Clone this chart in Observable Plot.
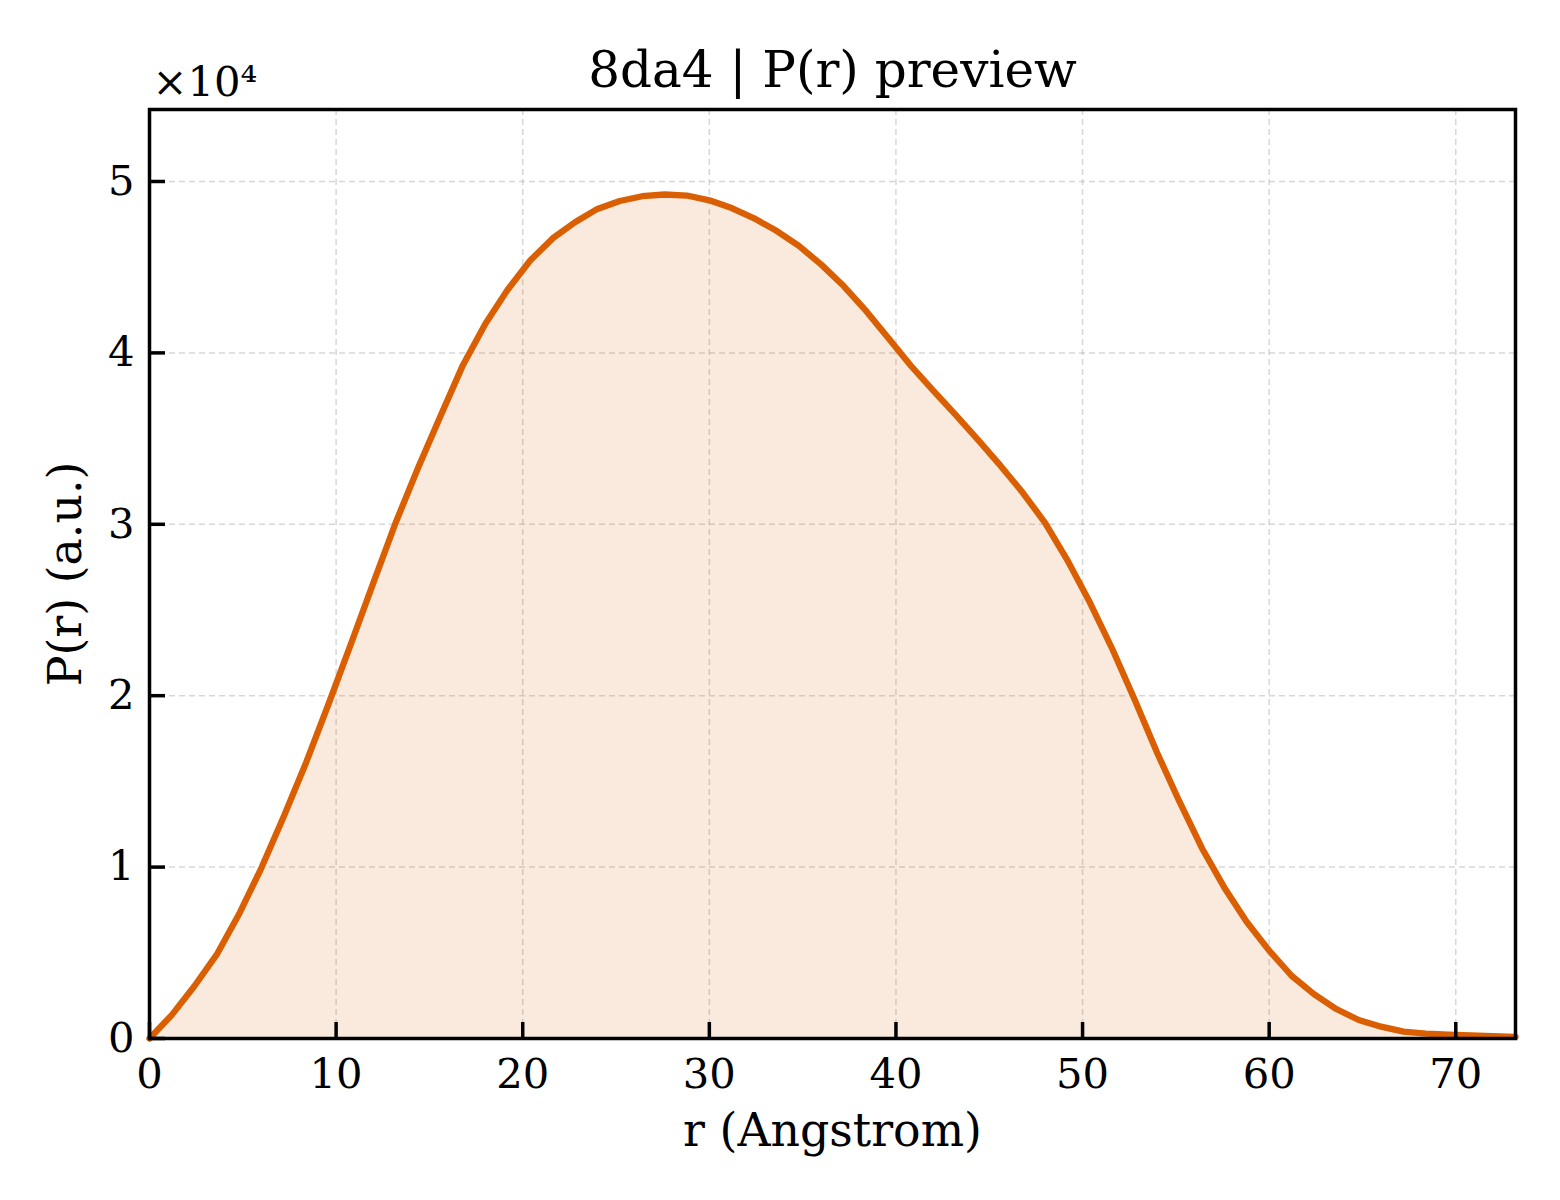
<!DOCTYPE html>
<html>
<head>
<meta charset="utf-8">
<script src="https://cdn.jsdelivr.net/npm/d3@7"></script>
<script src="https://cdn.jsdelivr.net/npm/@observablehq/plot@0.6"></script>
<style>
  html, body { margin: 0; padding: 0; background: white; }
</style>
</head>
<body>
<div id="chart"></div>
<script>
// r in Angstrom
const rValues = [
  0, 1.2, 2.4, 3.6, 4.8, 6.0, 7.2, 8.4, 9.6, 10.8,
  12.0, 13.2, 14.4, 15.6, 16.8, 18.0, 19.2, 20.4, 21.6, 22.8,
  24.0, 25.2, 26.4, 27.6, 28.8, 30.0, 31.2, 32.4, 33.6, 34.8,
  36.0, 37.2, 38.4, 39.6, 40.8, 42.0, 43.2, 44.4, 45.6, 46.8,
  48.0, 49.2, 50.4, 51.6, 52.8, 54.0, 55.2, 56.4, 57.6, 58.8,
  60.0, 61.2, 62.4, 63.6, 64.8, 66.0, 67.2, 68.4, 69.6, 70.8,
  72.0, 73.2
];
// P(r) in arbitrary units
const prValues = [
  0, 1380, 3050, 4890, 7260, 9960, 12960, 16120, 19530, 23040,
  26600, 30120, 33310, 36330, 39300, 41700, 43700, 45390, 46680, 47620,
  48400, 48860, 49140, 49240, 49180, 48900, 48450, 47850, 47120, 46240,
  45150, 43900, 42450, 40850, 39250, 37800, 36390, 34930, 33420, 31840,
  30070, 27880, 25420, 22710, 19750, 16660, 13800, 11100, 8800, 6800,
  5130, 3660, 2590, 1720, 1080, 690, 400, 280, 220, 180,
  140, 100
];
const xTicks = [0, 10, 20, 30, 40, 50, 60, 70];
const yTicks = [0, 10000, 20000, 30000, 40000, 50000];
const titleText = "8da4 | P(r) preview";
const xLabel = "r (Angstrom)";
const yLabel = "P(r) (a.u.)";
const offsetText = "×10⁴";

const data = rValues.map((r, i) => ({r, p: prValues[i]}));

const W = 1560, H = 1200, mL = 149, mR = 45, mT = 109, mB = 162;
const frameW = W - mL - mR, frameH = H - mT - mB, tickLen = 16;

const lineColor = "#d95f02";
const gridStyle = {stroke: "#b0b0b0", strokeOpacity: 0.5, strokeDasharray: "6,4", strokeWidth: 1.5};
const font = "DejaVu Serif";

const chart = Plot.plot({
  width: W,
  height: H,
  marginLeft: mL,
  marginRight: mR,
  marginTop: mT,
  marginBottom: mB,
  style: {fontFamily: font, background: "white"},
  x: {domain: [0, 73.2]},
  y: {domain: [0, 54200]},
  marks: [
    Plot.gridX(xTicks, gridStyle),
    Plot.gridY(yTicks, gridStyle),
    Plot.areaY(data, {x: "r", y: "p", fill: lineColor, fillOpacity: 0.13}),
    Plot.line(data, {x: "r", y: "p", stroke: lineColor, strokeWidth: 6.3}),
    Plot.axisX(xTicks, {tickSize: tickLen, dy: -tickLen, stroke: "black", strokeWidth: 3.5, fill: "none", label: null}),
    Plot.tickY(yTicks, {y: d => d, insetRight: frameW - tickLen, stroke: "black", strokeWidth: 3.5}),
    Plot.axisX(xTicks, {tickSize: 0, tickPadding: 20, fontSize: 41.7, fill: "black", label: null, tickFormat: d => String(d)}),
    Plot.axisY(yTicks, {tickSize: 0, tickPadding: 15, fontSize: 41.7, fill: "black", label: null, tickFormat: d => String(d / 10000)}),
    Plot.frame({stroke: "black", strokeWidth: 3.5}),
    Plot.text([titleText], {frameAnchor: "top", lineAnchor: "bottom", dy: -23, fontSize: 50, fill: "black"}),
    Plot.text([xLabel], {frameAnchor: "bottom", lineAnchor: "bottom", dy: 107, fontSize: 45.8, fill: "black"}),
    Plot.text([yLabel], {frameAnchor: "left", textAnchor: "middle", lineAnchor: "bottom", rotate: -90, dx: -69, fontSize: 45.8, fill: "black"}),
    Plot.text([offsetText], {frameAnchor: "top-left", textAnchor: "start", lineAnchor: "bottom", dx: 3, dy: -14, fontSize: 41.7, fill: "black"})
  ]
});
document.getElementById("chart").appendChild(chart);
</script>
</body>
</html>
